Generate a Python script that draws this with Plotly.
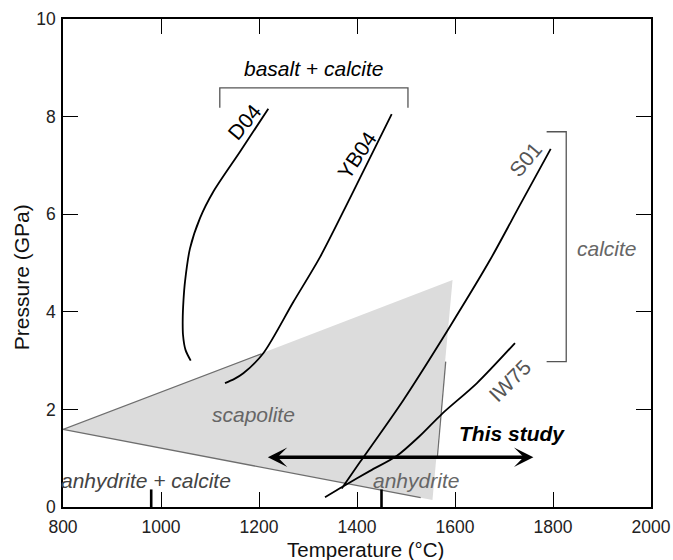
import plotly.graph_objects as go

# ---- data (temperature in °C, pressure in GPa) ----
D04_T = [1060.6, 1050.0, 1044.9, 1044.3, 1045.9, 1049.0, 1059.2, 1079.6, 1106.7, 1161.2, 1219.0]
D04_P = [3.00, 3.22, 3.53, 3.84, 4.24, 4.62, 5.30, 5.92, 6.46, 7.28, 8.16]

YB04_T = [1130.6, 1149.0, 1168.0, 1208.8, 1270.0, 1324.5, 1385.7, 1470.8]
YB04_P = [2.54, 2.62, 2.74, 3.15, 4.20, 5.12, 6.33, 8.05]

S01_T = [1368.8, 1406.1, 1494.5, 1589.8, 1671.4, 1732.7, 1795.3]
S01_P = [0.38, 0.92, 2.19, 3.70, 5.06, 6.19, 7.34]

IW75_T = [1334.7, 1371.4, 1426.5, 1481.6, 1528.6, 1573.5, 1644.9, 1722.4]
IW75_P = [0.20, 0.42, 0.74, 1.05, 1.46, 1.91, 2.54, 3.36]

# scapolite field (filled) and its drawn boundaries
SCAP_T = [800, 1595, 1554, 800]
SCAP_P = [1.59, 4.65, 0.145, 1.59]
SCAP_UPPER_T = [800, 1205]
SCAP_UPPER_P = [1.59, 3.14]
SCAP_LOWER_T = [800, 1530]
SCAP_LOWER_P = [1.59, 0.19]
SCAP_RIGHT_T = [1581, 1564]
SCAP_RIGHT_P = [2.98, 1.03]

# brackets
BASALT_BR_T = [1120, 1120, 1504, 1504]
BASALT_BR_P = [8.18, 8.59, 8.59, 8.18]
CALCITE_BR_T = [1787, 1827, 1827, 1787]
CALCITE_BR_P = [7.69, 7.69, 2.98, 2.98]

# "This study" temperature range
STUDY_T = [1215, 1760]
STUDY_P = 1.02

# marked temperatures on the T axis
MARK_T = [980, 1450]

X_TICKS = [800, 1000, 1200, 1400, 1600, 1800, 2000]
Y_TICKS = [0, 2, 4, 6, 8, 10]

FONT = "Liberation Sans, Arial, Helvetica, sans-serif"
LABEL_SIZE = 21

fig = go.Figure()

fig.add_trace(go.Scatter(x=SCAP_T, y=SCAP_P, mode="lines", fill="toself",
                         fillcolor="#dcdcdc", line=dict(width=0), hoverinfo="skip"))
for tx, py in [(SCAP_UPPER_T, SCAP_UPPER_P), (SCAP_LOWER_T, SCAP_LOWER_P),
               (SCAP_RIGHT_T, SCAP_RIGHT_P)]:
    fig.add_trace(go.Scatter(x=tx, y=py, mode="lines",
                             line=dict(color="#6e6e6e", width=1.3)))

for tx, py in [(D04_T, D04_P), (YB04_T, YB04_P), (S01_T, S01_P), (IW75_T, IW75_P)]:
    fig.add_trace(go.Scatter(x=tx, y=py, mode="lines",
                             line=dict(color="black", width=1.8, shape="spline", smoothing=0.8)))

for tx, py in [(BASALT_BR_T, BASALT_BR_P), (CALCITE_BR_T, CALCITE_BR_P)]:
    fig.add_trace(go.Scatter(x=tx, y=py, mode="lines",
                             line=dict(color="#555555", width=1.3)))

mx, my = [], []
for t in MARK_T:
    mx += [t, t, None]
    my += [0, 0.36, None]
fig.add_trace(go.Scatter(x=mx, y=my, mode="lines", line=dict(color="black", width=2.6)))

# arrow
fig.add_annotation(x=STUDY_T[1], y=STUDY_P, ax=STUDY_T[0], ay=STUDY_P,
                   xref="x", yref="y", axref="x", ayref="y", text="",
                   showarrow=True, arrowhead=3, startarrowhead=3, arrowside="end+start",
                   arrowwidth=3.6, arrowsize=0.9, startarrowsize=0.9,
                   arrowcolor="black", standoff=0, startstandoff=0)

def label(x, y, text, color="black", angle=0, size=LABEL_SIZE):
    fig.add_annotation(x=x, y=y, xref="x", yref="y", text=text, showarrow=False,
                       textangle=angle, font=dict(family=FONT, size=size, color=color),
                       xanchor="center", yanchor="middle")

label(1312, 8.98, "<i>basalt + calcite</i>")
label(1910, 5.30, "<i>calcite</i>", "#666666")
label(1188, 1.89, "<i>scapolite</i>", "#666666")
label(969, 0.55, "<i>anhydrite + calcite</i>", "#444444")
label(1520, 0.55, "<i>anhydrite</i>", "#666666")
label(1716, 1.50, "<b><i>This study</i></b>")
label(1171, 7.90, "D04", "black", -50)
label(1399, 7.21, "YB04", "black", -56)
label(1744, 7.12, "S01", "#555555", -50)
label(1712, 2.60, "IW75", "#555555", -45)

# axis titles
fig.add_annotation(x=0.514, y=-0.088, xref="paper", yref="paper", text="Temperature (°C)",
                   showarrow=False, font=dict(family=FONT, size=20.5, color="#111111"),
                   xanchor="center", yanchor="middle")
fig.add_annotation(x=-0.0714, y=0.471, xref="paper", yref="paper", text="Pressure (GPa)",
                   showarrow=False, textangle=-90, font=dict(family=FONT, size=21, color="#111111"),
                   xanchor="center", yanchor="middle")

axis_common = dict(showline=True, linecolor="black", linewidth=1.5, mirror="allticks",
                   ticks="inside", ticklen=15, tickwidth=1.3, tickcolor="black",
                   showgrid=False, zeroline=False, automargin=False,
                   tickfont=dict(family=FONT, size=17.5, color="#222222"))

fig.update_xaxes(range=[800, 2000], tickvals=X_TICKS, ticktext=[str(v) for v in X_TICKS],
                 ticklabelstandoff=3, **axis_common)
fig.update_yaxes(range=[0, 10], tickvals=Y_TICKS, ticktext=[str(v) for v in Y_TICKS],
                 ticklabelstandoff=2, **axis_common)

fig.update_layout(width=673, height=560, margin=dict(l=63, r=22, t=19, b=53),
                  plot_bgcolor="white", paper_bgcolor="white", showlegend=False)

fig.write_html("out.html", config={"displayModeBar": False},
               post_script="document.body.style.margin='0px';document.body.style.overflow='hidden';")
